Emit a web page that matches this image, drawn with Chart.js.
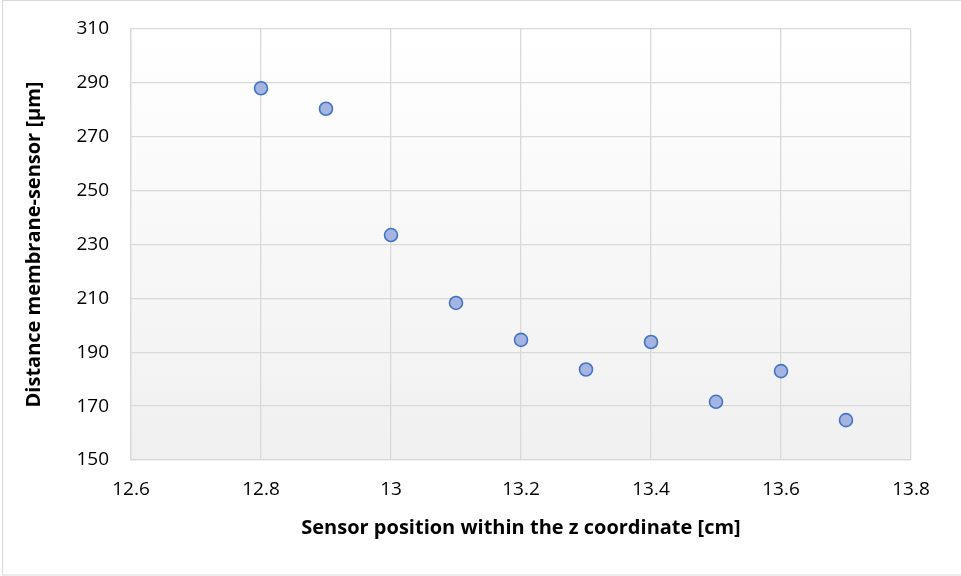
<!DOCTYPE html>
<html>
<head>
<meta charset="utf-8">
<script src="https://cdn.jsdelivr.net/npm/chart.js@4.4.1/dist/chart.umd.min.js"></script>
<style>
html,body{margin:0;padding:0;background:#fff;}
#wrap{width:961px;height:576px;position:relative;}
</style>
</head>
<body>
<div id="wrap"><canvas id="c" width="961" height="576"></canvas></div>
<script>
const xValues = [12.8, 12.9, 13.0, 13.1, 13.2, 13.3, 13.4, 13.5, 13.6, 13.7];
const yValues = [288.0, 280.4, 233.5, 208.3, 194.6, 183.6, 193.8, 171.6, 183.0, 164.8];
const xTitle = "Sensor position within the z coordinate [cm]";
const yTitle = "Distance membrane-sensor [µm]";

const points = xValues.map((x, i) => ({x: x, y: yValues[i]}));

const decor = {
  id: 'decor',
  beforeDraw(chart) {
    const {ctx, chartArea: a} = chart;
    ctx.save();
    ctx.fillStyle = '#ffffff';
    ctx.fillRect(0, 0, chart.width, chart.height);
    const g = ctx.createLinearGradient(0, a.top, 0, a.bottom);
    g.addColorStop(0, '#ffffff');
    g.addColorStop(1, '#f0f0f0');
    ctx.fillStyle = g;
    ctx.fillRect(a.left, a.top, a.right - a.left, a.bottom - a.top);
    ctx.strokeStyle = '#d9d9d9';
    ctx.lineWidth = 1;
    ctx.strokeRect(2.5, 0.5, 980, 574.5);
    ctx.restore();
  }
};

new Chart(document.getElementById('c'), {
  type: 'scatter',
  data: {
    datasets: [{
      data: points,
      backgroundColor: '#a3b5e0',
      borderColor: '#4472c4',
      borderWidth: 1.6,
      pointRadius: 6.5,
      pointHoverRadius: 6.5
    }]
  },
  options: {
    responsive: false,
    animation: false,
    devicePixelRatio: 1,
    layout: {autoPadding: false, padding: {left: 18, right: 50, top: 29, bottom: 32}},
    plugins: {legend: {display: false}, tooltip: {enabled: false}},
    scales: {
      x: {
        type: 'linear',
        min: 12.6, max: 13.8,
        ticks: {
          stepSize: 0.2,
          color: '#000',
          font: {family: 'Open Sans', size: 19},
          padding: 18,
          callback: v => String(Number(v.toFixed(1)))
        },
        grid: {color: '#d9d9d9', lineWidth: 1.3, drawTicks: false},
        border: {color: '#d9d9d9', width: 1.3},
        title: {display: true, text: xTitle, color: '#000',
          font: {family: 'Open Sans', size: 20, weight: 'bold'}, padding: {top: 2}},
        afterFit: s => { s.height = 84; s.paddingLeft = 10; s.paddingRight = 10; }
      },
      y: {
        min: 150, max: 310,
        ticks: {
          stepSize: 20,
          color: '#000',
          font: {family: 'Open Sans', size: 19},
          padding: 22
        },
        grid: {color: '#d9d9d9', lineWidth: 1.3, drawTicks: false},
        border: {color: '#d9d9d9', width: 1.3},
        title: {display: true, text: yTitle, color: '#000',
          font: {family: 'Open Sans', size: 20, weight: 'bold'}, padding: {bottom: 2}},
        afterFit: s => { s.width = 113; s.paddingTop = 10; s.paddingBottom = 10; }
      }
    }
  },
  plugins: [decor]
});
</script>
</body>
</html>
